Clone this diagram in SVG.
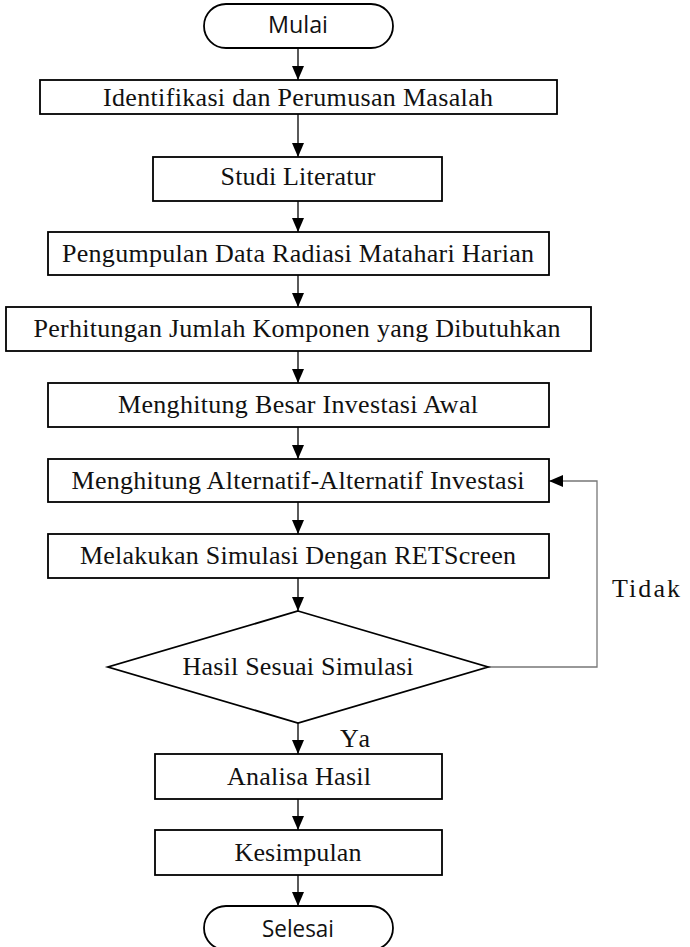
<svg xmlns="http://www.w3.org/2000/svg" width="690" height="947" viewBox="0 0 690 947">
<style>
.box{fill:#fff;stroke:#000;stroke-width:1.8}
.t{font-family:"Liberation Serif","Times New Roman",serif;font-size:26px;fill:#111;text-anchor:middle}
.s{font-family:"Open Sans","Liberation Sans",sans-serif;font-size:24px;fill:#111;text-anchor:middle}
.c{fill:none;stroke:#000;stroke-width:1.3}
.loop{fill:none;stroke:#777;stroke-width:1.3}
</style>
<defs>
<marker id="ah" markerWidth="14" markerHeight="12" refX="14" refY="6" orient="auto" markerUnits="userSpaceOnUse">
<path d="M0,0 L14,6 L0,12 Z" fill="#000"/>
</marker>
</defs>
<rect width="690" height="947" fill="#fff"/>
<g id="connectors">
<line class="c" x1="298" y1="48" x2="298" y2="80" marker-end="url(#ah)"/>
<line class="c" x1="298" y1="114" x2="298" y2="157" marker-end="url(#ah)"/>
<line class="c" x1="298" y1="201" x2="298" y2="232" marker-end="url(#ah)"/>
<line class="c" x1="298" y1="275" x2="298" y2="307" marker-end="url(#ah)"/>
<line class="c" x1="298" y1="351" x2="298" y2="383" marker-end="url(#ah)"/>
<line class="c" x1="298" y1="427" x2="298" y2="459" marker-end="url(#ah)"/>
<line class="c" x1="298" y1="502" x2="298" y2="534" marker-end="url(#ah)"/>
<line class="c" x1="298" y1="578" x2="298" y2="611" marker-end="url(#ah)"/>
<line class="c" x1="298" y1="723" x2="298" y2="754" marker-end="url(#ah)"/>
<line class="c" x1="298" y1="799" x2="298" y2="830" marker-end="url(#ah)"/>
<line class="c" x1="298" y1="875" x2="298" y2="906" marker-end="url(#ah)"/>
<polyline class="loop" points="488,667 597,667 597,481 549,481" marker-end="url(#ah)"/>
<text class="t" x="646" y="597" textLength="68" lengthAdjust="spacing">Tidak</text>
<text class="t" x="355" y="747" textLength="30" lengthAdjust="spacing">Ya</text>
</g>
<g id="mulai">
<rect class="box" x="204" y="4" width="189" height="44" rx="22" ry="22"/>
<text class="s" x="298" y="33" textLength="60" lengthAdjust="spacingAndGlyphs">Mulai</text>
</g>
<g id="identifikasi">
<rect class="box" x="40" y="80" width="517" height="34"/>
<text class="t" x="298" y="106" textLength="390" lengthAdjust="spacing">Identifikasi dan Perumusan Masalah</text>
</g>
<g id="studi">
<rect class="box" x="153" y="157" width="289" height="44"/>
<text class="t" x="298" y="185" textLength="155" lengthAdjust="spacing">Studi Literatur</text>
</g>
<g id="pengumpulan">
<rect class="box" x="48" y="232" width="501" height="43"/>
<text class="t" x="298" y="262" textLength="472" lengthAdjust="spacing">Pengumpulan Data Radiasi Matahari Harian</text>
</g>
<g id="perhitungan">
<rect class="box" x="6" y="307" width="585" height="44"/>
<text class="t" x="297" y="337" textLength="527" lengthAdjust="spacing">Perhitungan Jumlah Komponen yang Dibutuhkan</text>
</g>
<g id="besar">
<rect class="box" x="48" y="383" width="501" height="44"/>
<text class="t" x="298" y="413" textLength="360" lengthAdjust="spacing">Menghitung Besar Investasi Awal</text>
</g>
<g id="alternatif">
<rect class="box" x="48" y="459" width="501" height="43"/>
<text class="t" x="298" y="489" textLength="453" lengthAdjust="spacing">Menghitung Alternatif-Alternatif Investasi</text>
</g>
<g id="simulasi">
<rect class="box" x="48" y="534" width="501" height="44"/>
<text class="t" x="298" y="564" textLength="436" lengthAdjust="spacing">Melakukan Simulasi Dengan RETScreen</text>
</g>
<g id="keputusan">
<polygon class="box" points="298,611 488,667 298,723 108,667"/>
<text class="t" x="298" y="675" textLength="231" lengthAdjust="spacing">Hasil Sesuai Simulasi</text>
</g>
<g id="analisa">
<rect class="box" x="155" y="754" width="287" height="45"/>
<text class="t" x="299" y="785" textLength="144" lengthAdjust="spacing">Analisa Hasil</text>
</g>
<g id="kesimpulan">
<rect class="box" x="155" y="830" width="287" height="45"/>
<text class="t" x="298" y="861" textLength="127" lengthAdjust="spacing">Kesimpulan</text>
</g>
<g id="selesai">
<rect class="box" x="204" y="906" width="189" height="44" rx="22" ry="22"/>
<text class="s" x="298" y="937" textLength="72" lengthAdjust="spacingAndGlyphs">Selesai</text>
</g>
</svg>
